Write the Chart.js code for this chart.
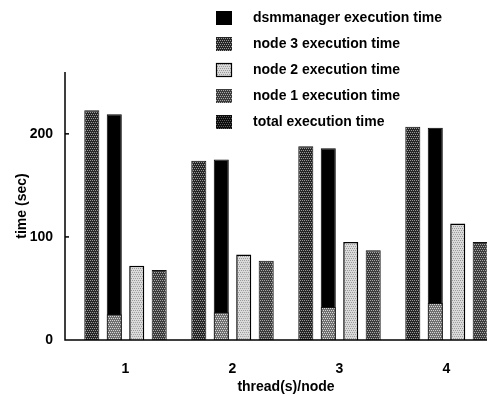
<!DOCTYPE html>
<html>
<head>
<meta charset="utf-8">
<script src="https://cdn.jsdelivr.net/npm/chart.js@4.4.1/dist/chart.umd.min.js"></script>
<style>
html, body { margin: 0; padding: 0; background: #fff; overflow: hidden; }
#caja { width: 500px; height: 396px; }
</style>
</head>
<body>
<div id="caja"><canvas id="grafico" width="500" height="396"></canvas></div>
<script>
// datos (segundos)
var categorias = ['1', '2', '3', '4'];
var node3Time = [223, 174, 188, 207];
var totalTime = [219, 175, 186, 206];
var dsmmanagerTime = [25, 27, 32, 36];
var node2Time = [72, 83, 95, 113];
var node1Time = [68, 77, 87, 95];
var yTicks = [0, 100, 200];

var fuente = "'Liberation Sans', Arial, Helvetica, sans-serif";
Chart.defaults.font.family = fuente;
Chart.defaults.color = '#000';

var ctx = document.getElementById('grafico').getContext('2d');

// trama punteada tipo impresion (puntos alternados)
function punteado(base, punto) {
    var c = document.createElement('canvas');
    c.width = 4; c.height = 4;
    var g = c.getContext('2d');
    g.fillStyle = base;
    g.fillRect(0, 0, 4, 4);
    g.fillStyle = punto;
    g.fillRect(0, 0, 1, 1);
    g.fillRect(2, 0, 1, 1);
    g.fillRect(1, 2, 1, 1);
    g.fillRect(3, 2, 1, 1);
    return ctx.createPattern(c, 'repeat');
}

var tramaNode3 = punteado('#262626', '#9a9a9a');
var tramaDsm = punteado('#707070', '#d8d8d8');
var tramaNode2 = punteado('#dadada', '#9a9a9a');
var tramaNode1 = punteado('#3c3c3c', '#a8a8a8');
var tramaTotal = punteado('#0c0c0c', '#5a5a5a');

var leyenda = [
    { texto: 'dsmmanager execution time', relleno: '#000000' },
    { texto: 'node 3 execution time', relleno: tramaNode3 },
    { texto: 'node 2 execution time', relleno: tramaNode2, borde: true },
    { texto: 'node 1 execution time', relleno: tramaNode1 },
    { texto: 'total execution time', relleno: tramaTotal }
];

var ejesYLeyenda = {
    id: 'ejesYLeyenda',
    afterDraw: function (chart) {
        var c = chart.ctx;
        var y = chart.scales.y;
        var x0 = 65;
        var base = y.getPixelForValue(0);
        c.save();
        c.strokeStyle = '#000';
        c.lineWidth = 1.5;
        c.beginPath();
        c.moveTo(x0, y.getPixelForValue(260));
        c.lineTo(x0, base);
        c.lineTo(chart.width, base);
        c.stroke();
        yTicks.forEach(function (v) {
            if (v === 0) return;
            var py = y.getPixelForValue(v);
            c.beginPath();
            c.moveTo(x0, py);
            c.lineTo(x0 + 4, py);
            c.stroke();
        });

        c.font = 'bold 14px ' + fuente;
        c.textBaseline = 'middle';
        c.textAlign = 'left';
        leyenda.forEach(function (item, i) {
            var cy = 18 + i * 26;
            c.fillStyle = item.relleno;
            c.fillRect(216, cy - 7, 16, 14);
            if (item.borde) {
                c.lineWidth = 1.2;
                c.strokeRect(216.5, cy - 6.5, 15, 13);
            }
            c.fillStyle = '#000';
            c.fillText(item.texto, 253, cy);
        });
        c.restore();
    }
};

var grafico = new Chart(ctx, {
    type: 'bar',
    data: {
        labels: categorias,
        datasets: [
            { label: 'node 3 execution time', data: node3Time, backgroundColor: tramaNode3, borderColor: '#111', borderWidth: 1, stack: 's1' },
            { label: 'dsmmanager execution time', data: dsmmanagerTime, backgroundColor: tramaDsm, borderColor: '#111', borderWidth: 1, stack: 's2' },
            { label: 'total execution time', data: totalTime, backgroundColor: '#000', borderColor: '#000', borderWidth: 1, stack: 's2' },
            { label: 'node 2 execution time', data: node2Time, backgroundColor: tramaNode2, borderColor: '#000', borderWidth: 1.5, stack: 's3' },
            { label: 'node 1 execution time', data: node1Time, backgroundColor: tramaNode1, borderColor: '#111', borderWidth: 1, stack: 's4' }
        ]
    },
    options: {
        responsive: false,
        animation: false,
        layout: { padding: { top: 72, left: 0, right: 0, bottom: 0 } },
        plugins: {
            legend: { display: false },
            tooltip: { enabled: false }
        },
        datasets: {
            bar: { categoryPercentage: 0.84, barPercentage: 0.67 }
        },
        scales: {
            x: {
                stacked: true,
                grid: { display: false },
                border: { display: false },
                afterFit: function (s) { s.height = 56; },
                ticks: { font: { size: 14, weight: 'bold' }, padding: 13, color: '#000' },
                title: { display: true, text: 'thread(s)/node', color: '#000', font: { size: 14, weight: 'bold' }, padding: { top: 0, bottom: 0 } }
            },
            y: {
                stacked: false,
                min: 0,
                max: 260,
                grid: { display: false },
                border: { display: false },
                afterBuildTicks: function (s) {
                    s.ticks = yTicks.map(function (v) { return { value: v }; });
                },
                afterFit: function (s) { s.width = 72; },
                ticks: { font: { size: 14, weight: 'bold' }, padding: 11, color: '#000' },
                title: { display: true, text: 'time (sec)', color: '#000', font: { size: 14, weight: 'bold' }, padding: { top: 14, bottom: 0 } }
            }
        }
    },
    plugins: [ejesYLeyenda]
});
</script>
</body>
</html>
